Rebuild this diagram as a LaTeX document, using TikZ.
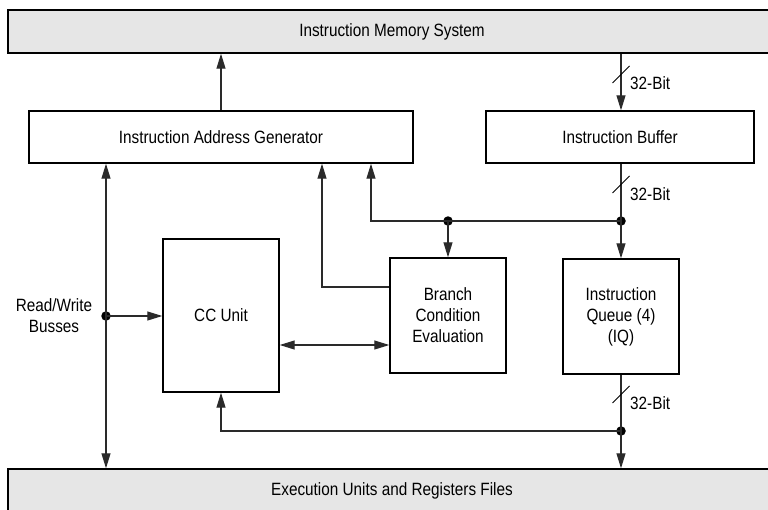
\documentclass[tikz,border=0pt]{standalone}
\usepackage{fontspec}
\setmainfont{Liberation Sans}[FakeStretch=0.86]
\usetikzlibrary{arrows.meta,calc}
\definecolor{boxgray}{HTML}{E6E6E6}
\definecolor{wire}{HTML}{2A2A2A}
\begin{document}
\begin{tikzpicture}[x=1pt,y=-1pt,
  every node/.style={font=\fontsize{17.8}{21}\selectfont},
  blk/.style={draw=black,line width=1.4pt,rectangle,inner sep=0pt,align=center},
  band/.style={blk,fill=boxgray},
  wireline/.style={draw=wire,line width=1.1pt},
  tip/.tip={Triangle[length=15pt,width=9pt]},
  arr/.style={wireline,-tip},
  biarr/.style={wireline,tip-tip},
  junction/.style={circle,fill=black,inner sep=0pt,minimum size=9.5pt},
  slashmark/.style={draw=black,line width=0.9pt},
  lbl/.style={inner sep=0pt,anchor=west}]
\useasboundingbox (0,0) rectangle (768,509);
\begin{scope}
\clip (0,0) rectangle (768,509);
% Blocks
\node[band,minimum width=768pt,minimum height=43pt] (ims) at (392,31.5) {Instruction Memory System};
\node[band,minimum width=768pt,minimum height=43pt] (eu) at (392,490.5) {Execution Units and Registers Files};
\end{scope}
\node[blk,minimum width=384pt,minimum height=52pt] (iag) at (221,137) {Instruction Address Generator};
\node[blk,minimum width=268pt,minimum height=52pt] (ib) at (620,137) {Instruction Buffer};
\node[blk,minimum width=116pt,minimum height=153pt] (cc) at (221,315.5) {CC Unit};
\node[blk,minimum width=116pt,minimum height=115pt] (bce) at (448,315.5) {Branch\\Condition\\Evaluation};
\node[blk,minimum width=116pt,minimum height=115pt] (iq) at (621,316.5) {Instruction\\Queue (4)\\(IQ)};
\node[align=center,inner sep=0pt] (rwlbl) at (54,316) {Read/Write\\Busses};

% Junctions and corners
\node[junction] (d1) at (448,221) {};
\node[junction] (d2) at (621,221) {};
\node[junction] (d3) at (621,431) {};
\node[junction] (rw) at (106,316) {};
\coordinate (c1) at (371,221);
\coordinate (c2) at (322,287);
\coordinate (c3) at (221,431);
\coordinate (cb) at (0,345);

% Connectors
\draw[arr] (iag.north) -- (iag.north |- ims.south);
\draw[arr] (ims.south -| d2) -- (ib.north -| d2);
\draw[wireline] (ib.south -| d2) -- (d2.center);
\draw[arr] (d2.center) -- (c1) -- (c1 |- iag.south);
\draw[arr] (d1.center) -- (d1 |- bce.north);
\draw[arr] (d2.center) -- (d2 |- iq.north);
\draw[arr] (bce.west |- c2) -- (c2) -- (c2 |- iag.south);
\draw[biarr] (cc.east |- cb) -- (bce.west |- cb);
\draw[biarr] (iag.south -| rw) -- (eu.north -| rw);
\draw[arr] (rw.center) -- (cc.west |- rw);
\draw[wireline] (iq.south -| d3) -- (d3.center);
\draw[arr] (d3.center) -- (eu.north -| d3);
\draw[arr] (d3.center) -- (c3) -- (cc.south);

% Bus width marks
\draw[slashmark] (612.5,83) -- (629.5,66);
\node[lbl] (w1) at (630,83) {32-Bit};
\draw[slashmark] (612.5,193) -- (629.5,176);
\node[lbl] (w2) at (630,194) {32-Bit};
\draw[slashmark] (612.5,403) -- (629.5,386);
\node[lbl] (w3) at (630,403) {32-Bit};
\end{tikzpicture}
\end{document}
